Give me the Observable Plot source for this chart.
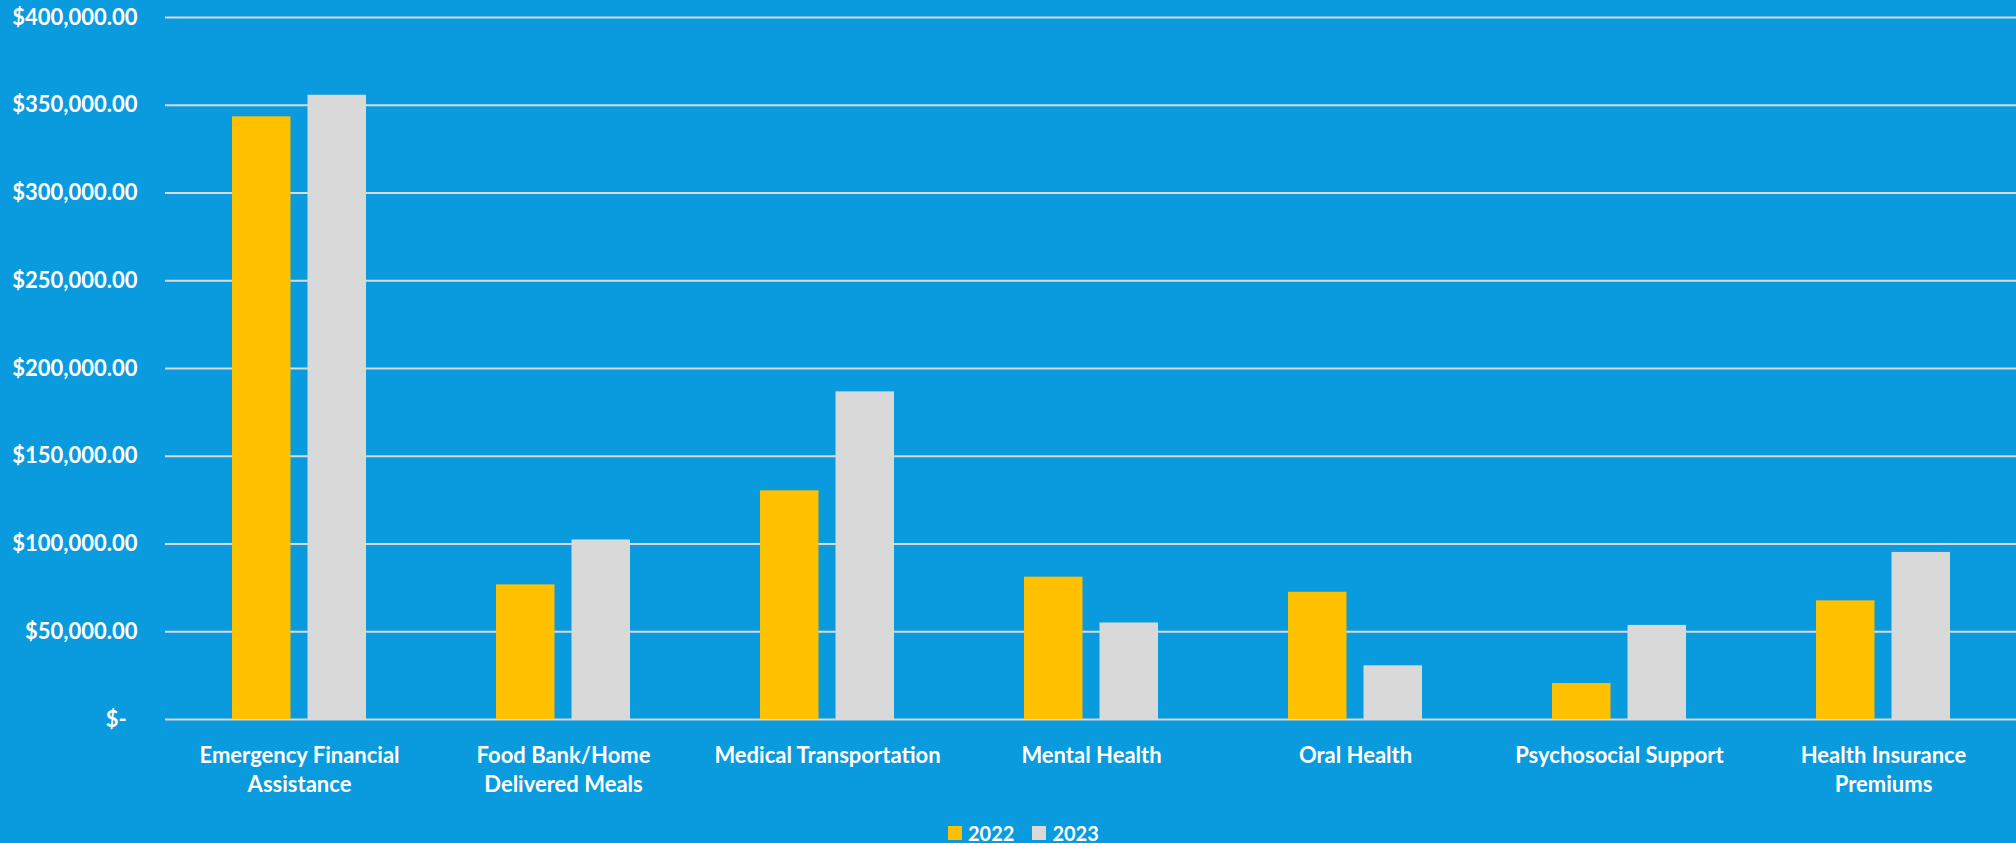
<!DOCTYPE html>
<html>
<head>
<meta charset="utf-8">
<script src="https://cdn.jsdelivr.net/npm/d3@7"></script>
<script src="https://cdn.jsdelivr.net/npm/@observablehq/plot@0.6"></script>
<style>
  html, body { margin: 0; padding: 0; background: #0a9ade; width: 2016px; height: 843px; overflow: hidden; }
  #chart { position: absolute; left: 0; top: 0; }
  #legend { position: absolute; left: 948px; top: 821px; display: flex; align-items: center; font-family: Lato, sans-serif; font-weight: 700; font-size: 20px; color: #fff; line-height: 24px; }
  .item { display: flex; align-items: center; margin-right: 18px; }
  .sw { width: 14px; height: 14px; margin-right: 6px; }
</style>
</head>
<body>
<div id="chart"></div>
<div id="legend"></div>
<script>
const categories = [
  "Emergency Financial Assistance",
  "Food Bank/Home Delivered Meals",
  "Medical Transportation",
  "Mental Health",
  "Oral Health",
  "Psychosocial Support",
  "Health Insurance Premiums"
];
const categoryLabels = [
  "Emergency Financial\nAssistance",
  "Food Bank/Home\nDelivered Meals",
  "Medical Transportation",
  "Mental Health",
  "Oral Health",
  "Psychosocial Support",
  "Health Insurance\nPremiums"
];
const years = ["2022", "2023"];
const values2022 = [343400, 76700, 130300, 81100, 72500, 20500, 67600];
const values2023 = [355700, 102300, 186700, 55000, 30600, 53600, 95200];
const yTicks = [0, 50000, 100000, 150000, 200000, 250000, 300000, 350000, 400000];
const colors = ["#ffc000", "#d9d9d9"];

const data2022 = categories.map((c, i) => ({category: c, year: "2022", value: values2022[i]}));
const data2023 = categories.map((c, i) => ({category: c, year: "2023", value: values2023[i]}));
const labelOf = new Map(categories.map((c, i) => [c, categoryLabels[i]]));
const money = d3.format(",.2f");
const fmtY = d => d === 0 ? "$-\u00a0\u00a0" : "$" + money(d);

const chart = Plot.plot({
  width: 2016,
  height: 810,
  marginTop: 17,
  marginBottom: 91,
  marginLeft: 165,
  marginRight: 0,
  style: {background: "transparent", fontFamily: "Lato, sans-serif", fontWeight: 700, fontSize: "22px", color: "#ffffff", overflow: "visible"},
  x: {domain: categories, range: [165, 2018], paddingInner: 0.492, paddingOuter: 0.246, label: null},
  y: {domain: [0, 400000], label: null},
  marks: [
    Plot.gridY(yTicks, {stroke: "#d9d9d9", strokeOpacity: 1, strokeWidth: 2}),
    Plot.barY(data2022, {x: "category", y: "value", fill: colors[0], insetRight: 75.5}),
    Plot.barY(data2023, {x: "category", y: "value", fill: colors[1], insetLeft: 75.5}),
    Plot.axisY(yTicks, {tickSize: 0, tickPadding: 28, tickFormat: fmtY, fontSize: 22, fill: "#ffffff", label: null}),
    Plot.axisX({tickSize: 0, tickPadding: 23, tickFormat: d => labelOf.get(d), lineHeight: 1.32, fontSize: 22, fill: "#ffffff", label: null})
  ]
});
document.getElementById("chart").appendChild(chart);

const legend = document.getElementById("legend");
years.forEach((y, i) => {
  const item = document.createElement("div");
  item.className = "item";
  const sw = document.createElement("div");
  sw.className = "sw";
  sw.style.background = colors[i];
  const t = document.createElement("span");
  t.textContent = y;
  item.appendChild(sw);
  item.appendChild(t);
  legend.appendChild(item);
});
</script>
</body>
</html>
